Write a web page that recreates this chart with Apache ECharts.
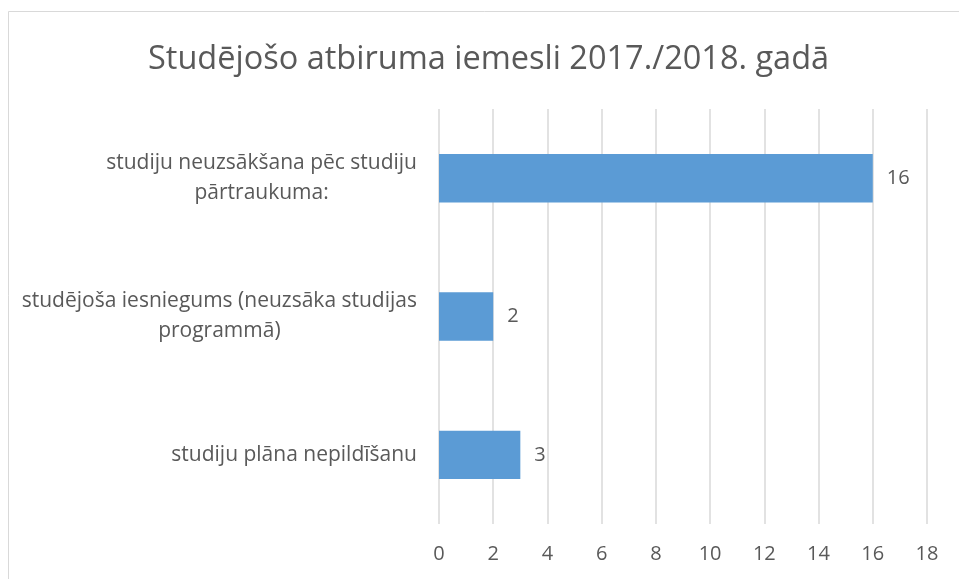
<!DOCTYPE html>
<html>
<head>
<meta charset="utf-8">
<script src="https://cdn.jsdelivr.net/npm/echarts@6/dist/echarts.min.js"></script>
<style>
  html, body { margin: 0; padding: 0; background: #fff; }
  #chart { width: 959px; height: 579px; }
</style>
</head>
<body>
<div id="chart"></div>
<script>
const categories = [
  "studiju neuzsākšana pēc studiju\npārtraukuma:",
  "studējoša iesniegums (neuzsāka studijas\nprogrammā)",
  "studiju plāna nepildīšanu"
];
const counts = [16, 2, 3];
const axisMin = 0;
const axisMax = 18;
const axisStep = 2;

const textColor = "#595959";
const fontFamily = "'Open Sans', 'Noto Sans', sans-serif";

const chart = echarts.init(document.getElementById("chart"), null, { renderer: "canvas" });

chart.setOption({
  backgroundColor: "#fff",
  animation: false,
  title: {
    text: "Studējošo atbiruma iemesli 2017./2018. gadā",
    left: 143,
    top: 38,
    textStyle: { color: textColor, fontSize: 32.5, fontWeight: "normal", fontFamily }
  },
  graphic: [{
    type: "rect",
    shape: { x: 8.5, y: 11.5, width: 1000, height: 1000 },
    style: { fill: "none", stroke: "#d9d9d9", lineWidth: 1 },
    silent: true
  }],
  grid: { left: 439, right: 32, top: 109, bottom: 55, containLabel: false },
  xAxis: {
    type: "value",
    min: axisMin,
    max: axisMax,
    interval: axisStep,
    axisLine: { show: false },
    axisTick: { show: false },
    axisLabel: { color: textColor, fontSize: 20, fontFamily, margin: 20 },
    splitLine: { show: true, lineStyle: { color: "#d9d9d9", width: 1.5 } }
  },
  yAxis: {
    type: "category",
    inverse: true,
    data: categories,
    axisLine: { show: false },
    axisTick: { show: false },
    axisLabel: {
      margin: 22,
      align: "right",
      formatter: (v) => v.split("\n").map((line) => "{c|" + line + "}").join("\n"),
      rich: {
        c: { color: textColor, fontSize: 21, fontFamily, align: "center", lineHeight: 30 }
      }
    }
  },
  series: [{
    type: "bar",
    data: counts,
    barCategoryGap: "65%",
    itemStyle: { color: "#5b9bd5" },
    label: {
      show: true,
      position: "right",
      distance: 14,
      color: textColor,
      fontSize: 20,
      fontFamily
    }
  }]
});
</script>
</body>
</html>
